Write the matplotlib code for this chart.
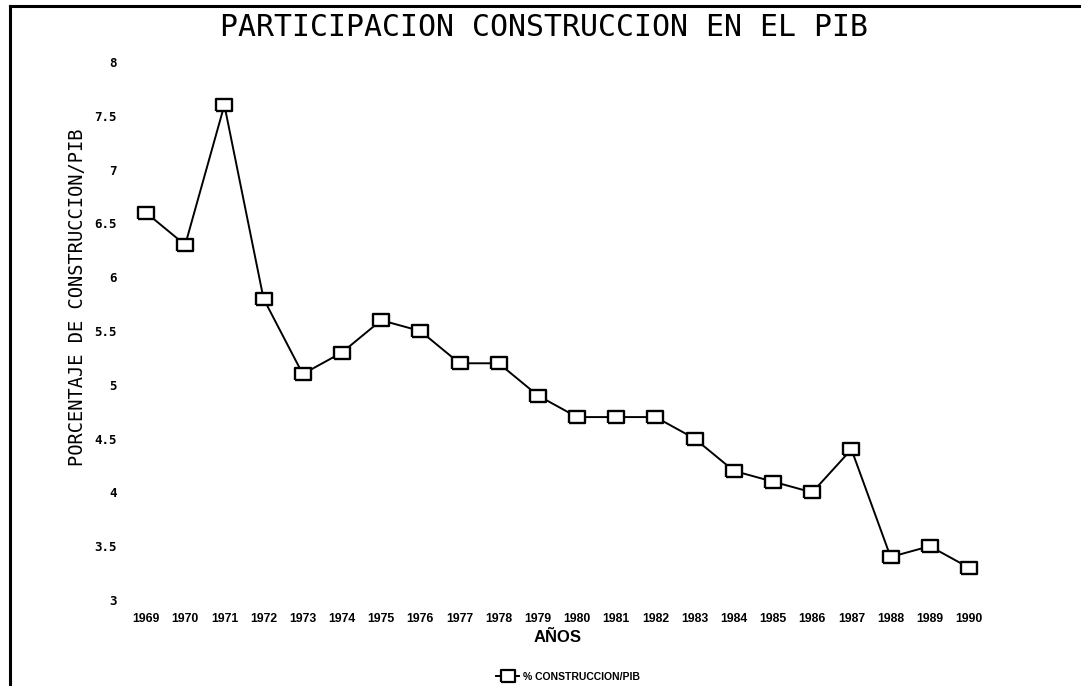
import matplotlib
matplotlib.use("Agg")
import matplotlib.pyplot as plt
from matplotlib.lines import Line2D

years = [1969, 1970, 1971, 1972, 1973, 1974, 1975, 1976, 1977, 1978, 1979,
         1980, 1981, 1982, 1983, 1984, 1985, 1986, 1987, 1988, 1989, 1990]
values = [6.6, 6.3, 7.6, 5.8, 5.1, 5.3, 5.6, 5.5, 5.2, 5.2, 4.9,
          4.7, 4.7, 4.7, 4.5, 4.2, 4.1, 4.0, 4.4, 3.4, 3.5, 3.3]
ytick_vals = [3, 3.5, 4, 4.5, 5, 5.5, 6, 6.5, 7, 7.5, 8]
ytick_labels = ["3", "3.5", "4", "4.5", "5", "5.5", "6", "6.5", "7", "7.5", "8"]
title = "PARTICIPACION CONSTRUCCION EN EL PIB"
ylabel = "PORCENTAJE DE CONSTRUCCION/PIB"
xlabel = "AÑOS"
series_name = "% CONSTRUCCION/PIB"

W, H = 1081, 686
fig = plt.figure(figsize=(W / 100, H / 100), dpi=100)
fig.patch.set_facecolor("white")

# axes placed so that 1969 -> x=146px, 1990 -> x=969px, y=8 -> 62px, y=3 -> 600px
ax = fig.add_axes([146 / W, 1 - 600 / H, 823 / W, 538 / H])
ax.set_xlim(years[0], years[-1])
ax.set_ylim(3, 8)
for s in ax.spines.values():
    s.set_visible(False)
ax.set_facecolor("none")

rect = [(-1, -0.8), (1, -0.8), (1, 0.8), (-1, 0.8), (-1, -0.8)]
ax.plot(years, values, color="black", linewidth=1.4, marker=rect,
        markersize=11, markerfacecolor="white", markeredgecolor="black",
        markeredgewidth=1.7, clip_on=False, zorder=3)

ax.set_xticks(years)
ax.set_xticklabels([str(y) for y in years],
                   fontdict=dict(family="Liberation Sans", weight="bold", size=8.8))
ax.set_yticks(ytick_vals)
ax.set_yticklabels(ytick_labels,
                   fontdict=dict(family="DejaVu Sans Mono", weight="bold", size=9))
ax.tick_params(axis="both", length=0)
ax.tick_params(axis="x", pad=9)
ax.tick_params(axis="y", pad=21)

fig.text(544 / W, 1 - 27 / H, title, ha="center", va="center",
         family="DejaVu Sans Mono", size=21.5, color="black")
fig.text(78 / W, 1 - 297 / H, ylabel, rotation=90, ha="center", va="center",
         family="DejaVu Sans Mono", size=13.5, color="black")
fig.text(558 / W, 1 - 637 / H, xlabel, ha="center", va="center",
         family="Liberation Sans", weight="bold", size=12, color="black")

# legend
handle = Line2D([], [], color="black", linewidth=1.4, marker=rect, markersize=10,
                markerfacecolor="white", markeredgecolor="black", markeredgewidth=1.6)
fig.legend([handle], [series_name], loc="center", bbox_to_anchor=(568 / W, 1 - 677 / H),
           frameon=False, handlelength=2.2, handletextpad=0.3,
           prop=dict(family="Liberation Sans", weight="bold", size=7.5))

# page border (top and left)
fig.add_artist(Line2D([10 / W, 1], [1 - 6 / H, 1 - 6 / H], color="black", linewidth=2.2,
                      transform=fig.transFigure))
fig.add_artist(Line2D([10 / W, 10 / W], [1 - 6 / H, 0], color="black", linewidth=2.2,
                      transform=fig.transFigure))

fig.savefig("out.png", dpi=100, facecolor="white")
